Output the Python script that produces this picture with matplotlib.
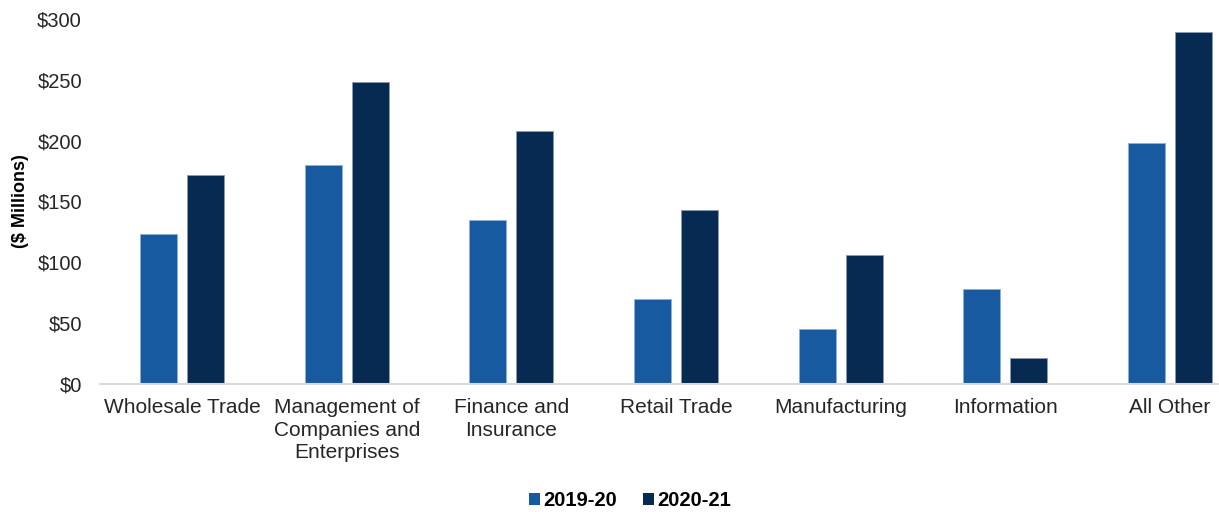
import matplotlib
matplotlib.use('Agg')

import numpy as np
import matplotlib.pyplot as plt
from matplotlib.ticker import FuncFormatter

plt.rcParams['font.family'] = ['Liberation Sans', 'DejaVu Sans']

categories = ['Wholesale Trade', 'Management of\nCompanies and\nEnterprises',
              'Finance and\nInsurance', 'Retail Trade', 'Manufacturing',
              'Information', 'All Other']
vals_1920 = [123, 180, 135, 70, 45, 78, 198]
vals_2021 = [172, 248, 208, 143, 106, 21, 289]
series_labels = ['2019-20', '2020-21']

c1 = '#185a9f'
c2 = '#062a51'

fig = plt.figure(figsize=(12.19, 5.12), dpi=100)
ax = fig.add_axes([100 / 1219, 1 - 384 / 512, 1152 / 1219, 365 / 512])

x = np.arange(len(categories))
w = 0.225
off = 0.143
ax.bar(x - off, vals_1920, w, color=c1, edgecolor='#8fb0d6', linewidth=0.6, label=series_labels[0])
ax.bar(x + off, vals_2021, w, color=c2, edgecolor='#8b9bb0', linewidth=0.6, label=series_labels[1])

ax.set_xlim(-0.5, len(categories) - 0.5)
ax.set_ylim(0, 300)
ax.set_yticks(range(0, 301, 50))
ax.yaxis.set_major_formatter(FuncFormatter(lambda v, p: f'${int(v)}'))
ax.set_xticks(x)
ax.set_xticklabels(categories, fontsize=15, color='#262626', linespacing=1.25)
ax.tick_params(axis='y', labelsize=14.5, labelcolor='#262626', length=0, pad=13)
ax.tick_params(axis='x', length=0, pad=10)

for s in ['top', 'right', 'left']:
    ax.spines[s].set_visible(False)
ax.spines['bottom'].set_color('#d9d9d9')
ax.spines['bottom'].set_linewidth(1.5)

ax.set_ylabel('($ Millions)', fontsize=13, fontweight='bold')
ax.yaxis.set_label_coords(-0.062, 0.5)

leg = fig.legend(loc='center', bbox_to_anchor=(630 / 1219, 1 - 501 / 512), ncol=2,
                 frameon=False, prop={'size': 14.5, 'weight': 'bold'},
                 handlelength=0.55, handleheight=0.55, handletextpad=0.15, columnspacing=1.3)
for h in leg.legend_handles:
    h.set_edgecolor('none')

fig.savefig('out.png', dpi=100)
